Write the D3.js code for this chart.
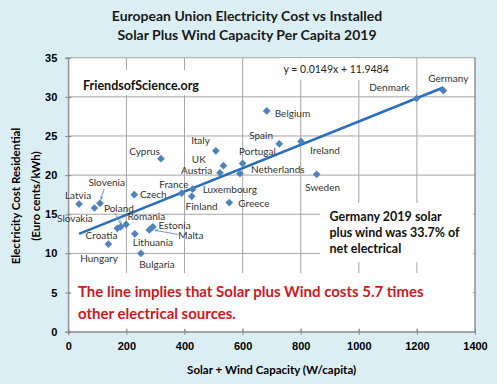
<!DOCTYPE html>
<html>
<head>
<meta charset="utf-8">
<script src="https://cdn.jsdelivr.net/npm/d3@7"></script>
<style>
  body { margin: 0; background: #dbeef4; }
  svg { display: block; font-family: Lato, "Liberation Sans", sans-serif; }
</style>
</head>
<body>
<div id="chart"></div>
<script>
// values
const countries = ["Germany", "Denmark", "Belgium", "Spain", "Portugal", "Ireland", "Netherlands", "Sweden",
  "Italy", "UK", "Austria", "Cyprus", "France", "Luxembourg", "Finland", "Greece", "Czech",
  "Latvia", "Slovenia", "Slovakia", "Poland", "Romania", "Croatia", "Estonia", "Malta",
  "Lithuania", "Hungary", "Bulgaria"];
const capacity = [1291, 1199, 683, 726, 600, 801, 591, 855,
  508, 534, 522, 319, 390, 428, 425, 554, 227,
  37, 109, 90, 180, 199, 169, 291, 279,
  229, 138, 250];
const cost = [30.8, 29.8, 28.2, 24.0, 21.5, 24.3, 20.2, 20.1,
  23.1, 21.2, 20.3, 22.1, 17.7, 18.2, 17.3, 16.5, 17.5,
  16.3, 16.4, 15.8, 13.4, 13.7, 13.2, 13.4, 13.0,
  12.5, 11.2, 10.0];
const xTicks = [0, 200, 400, 600, 800, 1000, 1200, 1400];
const yTicks = [0, 5, 10, 15, 20, 25, 30, 35];
const trendSlope = 0.0149, trendIntercept = 11.9484;

// label placement next to each marker: [anchor, dx, dy]
const labelPos = {
  Germany: ["middle", 5, -12], Denmark: ["end", -7, -11], Belgium: ["start", 8, 2.6],
  Spain: ["start", -30, -8], Portugal: ["start", -3.5, -11.7], Ireland: ["start", 9, 9],
  Netherlands: ["start", 11, -4], Sweden: ["middle", 6, 12.7], Italy: ["end", -6, -10.7],
  UK: ["end", -17.6, -5.8], Austria: ["end", -7.7, -2.2], Cyprus: ["end", -1, -6.7],
  France: ["middle", -7.7, -8.3], Luxembourg: ["start", 10, 0], Finland: ["start", -6.2, 10],
  Greece: ["start", 9, 0.7], Czech: ["start", 5.7, 0], Latvia: ["middle", -1, -8.6],
  Slovenia: ["middle", 6.7, -20.6], Slovakia: ["middle", -19.5, 11], Poland: ["middle", -1.7, -18],
  Romania: ["start", 1.3, -8], Croatia: ["end", 0, 6.7], Estonia: ["start", 5.6, -1.7],
  Malta: ["start", 29, 5.3], Lithuania: ["start", -2, 8.6], Hungary: ["middle", -9.3, 14.6],
  Bulgaria: ["start", -1.7, 11.3]
};
// callout arrows: [x1, y1, x2, y2] relative to the marker
const arrows = {
  Slovenia: [4, -14, 1, -4],
  Poland: [-5.7, -13.4, 0.5, -3],
  Malta: [29, 4.6, 5.5, 0.3]
};

const W = 497, H = 384;
const margin = { top: 57.7, right: 22, bottom: 52.3, left: 68.3 };
const width = W - margin.left - margin.right;
const height = H - margin.top - margin.bottom;

const svg = d3.select("#chart").append("svg")
  .attr("width", W).attr("height", H);

svg.append("rect").attr("width", W).attr("height", H).attr("fill", "#dbeef4");

const g = svg.append("g")
  .attr("transform", "translate(" + margin.left + "," + margin.top + ")");

const x = d3.scaleLinear().domain([0, 1400]).range([0, width]);
const y = d3.scaleLinear().domain([0, 35]).range([height, 0]);

g.append("rect").attr("width", width).attr("height", height).attr("fill", "white");

// gridlines
g.append("g")
  .selectAll("line.vg").data(xTicks).enter().append("line")
  .attr("x1", d => x(d)).attr("x2", d => x(d))
  .attr("y1", 0).attr("y2", height)
  .attr("stroke", "#a6a6a6").attr("stroke-width", 1);
g.append("g")
  .selectAll("line.hg").data(yTicks).enter().append("line")
  .attr("x1", 0).attr("x2", width)
  .attr("y1", d => y(d)).attr("y2", d => y(d))
  .attr("stroke", "#a6a6a6").attr("stroke-width", 1);

// white text boxes that sit over the grid
function box(x0, y0, x1, y1) {
  g.append("rect")
    .attr("x", x0 - margin.left).attr("y", y0 - margin.top)
    .attr("width", x1 - x0).attr("height", y1 - y0)
    .attr("fill", "white");
}
box(80, 70, 206, 95);
box(280, 58.5, 396, 80);
box(320, 203, 473, 262);
box(70, 273, 473, 329);

// axes
const xAxis = g.append("g")
  .attr("transform", "translate(0," + height + ")")
  .call(d3.axisBottom(x).tickValues(xTicks).tickFormat(d3.format("d")).tickSize(3).tickPadding(8));
const yAxis = g.append("g")
  .call(d3.axisLeft(y).tickValues(yTicks).tickFormat(d3.format("d")).tickSize(3).tickPadding(8));
[xAxis, yAxis].forEach(a => {
  a.select(".domain").attr("stroke", "#868686");
  a.selectAll(".tick line").attr("stroke", "#868686");
  a.selectAll(".tick text")
    .attr("fill", "#000").style("font-size", "11px").style("font-weight", "bold");
});
// ticks cross the axis line
xAxis.selectAll(".tick").append("line").attr("y1", 0).attr("y2", -3).attr("stroke", "#868686");
yAxis.selectAll(".tick").append("line").attr("x1", 0).attr("x2", 3).attr("stroke", "#868686");
g.append("line").attr("x1", width).attr("x2", width).attr("y1", 0).attr("y2", height)
  .attr("stroke", "#868686");

// trendline
const xMin = d3.min(capacity), xMax = d3.max(capacity);
g.append("line")
  .attr("x1", x(xMin)).attr("y1", y(trendSlope * xMin + trendIntercept))
  .attr("x2", x(xMax)).attr("y2", y(trendSlope * xMax + trendIntercept))
  .attr("stroke", "#2a6ebb").attr("stroke-width", 2.6);

// arrows
svg.append("defs").append("marker")
  .attr("id", "ah").attr("viewBox", "0 0 10 10").attr("refX", 9).attr("refY", 5)
  .attr("markerWidth", 5).attr("markerHeight", 5).attr("orient", "auto")
  .append("path").attr("d", "M1,1L9,5L1,9").attr("fill", "none").attr("stroke", "#4a7ebb").attr("stroke-width", 1.2);

const pts = countries.map((c, i) => ({ name: c, px: x(capacity[i]), py: y(cost[i]) }));

g.selectAll("line.arrow").data(pts.filter(d => arrows[d.name])).enter().append("line")
  .attr("x1", d => d.px + arrows[d.name][0]).attr("y1", d => d.py + arrows[d.name][1])
  .attr("x2", d => d.px + arrows[d.name][2]).attr("y2", d => d.py + arrows[d.name][3])
  .attr("stroke", "#4a7ebb").attr("stroke-width", 0.8).attr("marker-end", "url(#ah)");

// markers
g.selectAll("path.pt").data(pts).enter().append("path")
  .attr("d", d3.symbol().type(d3.symbolDiamond2).size(38))
  .attr("transform", d => "translate(" + d.px + "," + d.py + ")")
  .attr("fill", "#4f81bd");

// data labels
g.selectAll("text.lbl").data(pts).enter().append("text")
  .attr("x", d => d.px + labelPos[d.name][1])
  .attr("y", d => d.py + labelPos[d.name][2])
  .attr("dy", "0.35em")
  .attr("text-anchor", d => labelPos[d.name][0])
  .style("font-size", "10px").attr("fill", "#333")
  .text(d => d.name);

// titles and notes
const title = svg.append("text").attr("text-anchor", "middle").attr("fill", "#1a1a1a")
  .style("font-size", "14px").style("font-weight", "bold");
title.append("tspan").attr("x", 247).attr("y", 21).text("European Union Electricity Cost vs Installed");
title.append("tspan").attr("x", 247).attr("y", 39.5).text("Solar Plus Wind Capacity Per Capita 2019");

svg.append("text").attr("x", margin.left + width / 2).attr("y", 373.5)
  .attr("text-anchor", "middle").style("font-size", "11.5px").style("font-weight", "bold")
  .text("Solar + Wind Capacity (W/capita)");

const yt = svg.append("text").attr("transform", "translate(0,196) rotate(-90)")
  .attr("text-anchor", "middle").style("font-size", "11.5px").style("font-weight", "bold");
yt.append("tspan").attr("x", 0).attr("y", 20).text("Electricity Cost Residential");
yt.append("tspan").attr("x", 0).attr("y", 40).text("(Euro cents/kWh)");

svg.append("text").attr("x", 83).attr("y", 89.5)
  .style("font-size", "12.5px").style("font-weight", "bold").attr("fill", "#111")
  .text("FriendsofScience.org");

svg.append("text").attr("x", 283.5).attr("y", 73)
  .style("font-size", "10.5px").attr("fill", "#222")
  .text("y = 0.0149x + 11.9484");

const note = svg.append("text").style("font-size", "12.5px").style("font-weight", "bold").attr("fill", "#111");
["Germany 2019 solar", "plus wind was 33.7% of", "net electrical"].forEach((t, i) => {
  note.append("tspan").attr("x", 329.5).attr("y", 221 + i * 16).text(t);
});

const red = svg.append("text").style("font-size", "15px").style("font-weight", "bold").attr("fill", "#d0181e");
["The line implies that Solar plus Wind costs 5.7 times", "other electrical sources."].forEach((t, i) => {
  red.append("tspan").attr("x", 78).attr("y", 297 + i * 21.7).text(t);
});
</script>
</body>
</html>
